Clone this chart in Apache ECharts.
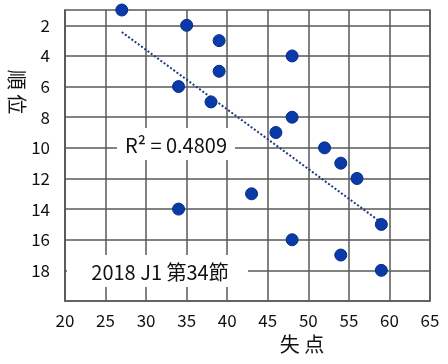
<!DOCTYPE html>
<html><head><meta charset="utf-8">
<script src="https://cdn.jsdelivr.net/npm/echarts@6/dist/echarts.min.js"></script>
<style>html,body{margin:0;padding:0;background:#fff}#c{width:448px;height:364px}</style>
</head><body><div id="c"></div>
<script>
var goalsAgainst = [27,35,39,48,39,34,38,48,46,52,54,56,43,34,59,48,54,59];
var ranks = [1,2,3,4,5,6,7,8,9,10,11,12,13,14,15,16,17,18];
var yTicks = [2,4,6,8,10,12,14,16,18];
var xTicks = [20,25,30,35,40,45,50,55,60,65];
var r2Text = 'R\u00B2 = 0.4809';
var titleText = '2018 J1 第34節';

var pts = goalsAgainst.map(function(x,i){return [x, ranks[i]];});
// linear regression (trendline) derived from the data
var n = pts.length, mx = 0, my = 0;
pts.forEach(function(p){mx += p[0]; my += p[1];}); mx/=n; my/=n;
var sxy = 0, sxx = 0;
pts.forEach(function(p){sxy += (p[0]-mx)*(p[1]-my); sxx += (p[0]-mx)*(p[0]-mx);});
var b = sxy/sxx, a = my - b*mx;
var xMin = Math.min.apply(null, goalsAgainst), xMax = Math.max.apply(null, goalsAgainst);
var trend = [[xMin, a + b*xMin], [xMax, a + b*xMax]];

var FONT = 'Noto Sans CJK JP';
var chart = echarts.init(document.getElementById('c'));
chart.setOption({
  animation: false,
  grid: {left: 65, right: 18, top: 10, bottom: 63, show: true, borderColor: '#595959', borderWidth: 1.5, backgroundColor: '#fff'},
  xAxis: {
    type: 'value', min: 20, max: 65, interval: 5,
    axisLine: {show: true, lineStyle: {color: '#595959', width: 1.5}},
    axisTick: {show: false},
    axisLabel: {color: '#111', fontSize: 17, fontFamily: FONT, margin: 11},
    splitLine: {show: true, lineStyle: {color: '#595959', width: 1.5}}
  },
  yAxis: {
    type: 'value', min: 1, max: 20, inverse: true,
    axisLine: {show: true, lineStyle: {color: '#595959', width: 1.5}},
    axisTick: {show: false, customValues: yTicks},
    axisLabel: {color: '#111', fontSize: 17, fontFamily: FONT, margin: 15, customValues: yTicks},
    splitLine: {show: true, lineStyle: {color: '#595959', width: 1.5}}
  },
  series: [
    {
      type: 'line', data: trend, symbol: 'none', silent: true, z: 3,
      lineStyle: {color: '#1f3a80', width: 2, type: [2, 2]}
    },
    {
      type: 'scatter', data: pts, symbolSize: 12, z: 4,
      itemStyle: {color: '#0a3aa8', borderColor: '#062d8a', borderWidth: 1, opacity: 1}
    }
  ],
  graphic: [
    {type: 'rect', shape: {x: 117, y: 128, width: 118, height: 32}, style: {fill: '#fff'}, z: 10},
    {type: 'text', x: 176, y: 145, z: 11, style: {text: r2Text, font: '20px "' + FONT + '"', fill: '#111', align: 'center', verticalAlign: 'middle'}},
    {type: 'rect', shape: {x: 67, y: 255, width: 181, height: 32}, style: {fill: '#fff'}, z: 10},
    {type: 'text', x: 160, y: 272, z: 11, style: {text: titleText, font: '20px "' + FONT + '"', fill: '#111', align: 'center', verticalAlign: 'middle'}},
    {type: 'text', x: 17, y: 92, rotation: -Math.PI/2, z: 11, style: {text: '順 位', font: '20px "' + FONT + '"', fill: '#111', align: 'center', verticalAlign: 'middle'}},
    {type: 'text', x: 302, y: 344, z: 11, style: {text: '失 点', font: '20px "' + FONT + '"', fill: '#111', align: 'center', verticalAlign: 'middle'}}
  ]
});
</script></body></html>
